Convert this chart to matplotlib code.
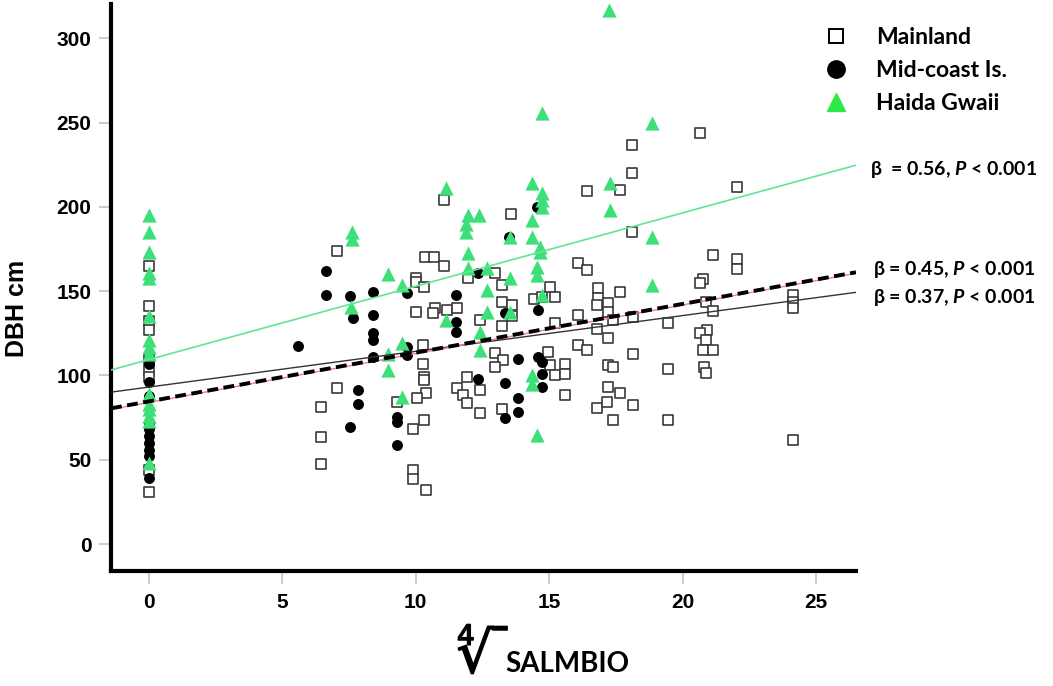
import matplotlib
matplotlib.use("Agg")
import matplotlib.pyplot as plt
import matplotlib.patheffects as pe
from matplotlib.lines import Line2D
import numpy as np


# =========================
# DATOS
# =========================

# Mainland (cuadrados abiertos)
MAIN_X = [0, 0, 0, 0, 0, 0, 0, 0, 0,
          6.45, 6.45, 6.45, 7.06, 7.06, 9.29, 9.89, 9.89, 9.89, 10.37,
          10.0, 10.0, 10.3, 10.0, 10.35, 10.69, 11.07, 11.07,
          10.72, 11.16, 11.54, 10.66,
          10.26, 10.26, 10.3, 10.3, 10.4, 10.04, 10.3,
          11.54, 11.79, 11.94, 11.94, 12.41, 12.41, 11.97,
          12.97, 13.22, 13.22, 13.6, 13.6, 12.41, 13.22,
          12.97, 13.26, 12.97, 13.22, 13.57,
          14.45, 14.72, 15.04, 15.22,
          14.97, 15.04, 15.6, 15.22, 15.6, 15.6, 15.22,
          16.1, 16.43, 16.43,
          16.85, 16.85, 16.8, 17.2, 17.2,
          16.1, 16.79, 17.22, 17.4, 18.16,
          16.1, 16.43, 18.16,
          17.22, 17.4, 17.22, 17.66,
          16.79, 17.16, 17.4, 18.16,
          17.66, 18.1, 18.1, 18.1, 17.66,
          19.47, 19.47, 19.47,
          20.66, 22.04, 21.13, 22.04, 22.04,
          20.76, 20.66, 20.88, 21.13,
          24.13, 24.13, 24.13,
          20.91, 20.66, 20.88, 20.76, 21.13,
          20.79, 20.88, 24.13]
MAIN_Y = [165, 141, 132, 127, 110, 103, 99, 44, 31,
          81, 63.7, 47.3, 173.8, 92.3, 84.4, 68, 43.9, 38.4, 32,
          157.6, 155.6, 152.6, 137.8, 170.4, 170.4, 165, 204,
          139.8, 138.8, 139.8, 136.8,
          118, 107, 99, 97, 89.4, 86.4, 73.5,
          92.3, 88.4, 83.8, 98.9, 91.3, 78, 157.6,
          160.6, 153.6, 143.7, 141.8, 135, 132.9, 129.3,
          113.5, 109, 104.8, 79.9, 196,
          145.5, 146.7, 152.6, 146.7,
          114, 106, 107, 100, 100.7, 88.4, 131.3,
          166.5, 162.5, 209.6,
          151.6, 145.7, 141.8, 143, 137.8,
          135.8, 127.4, 122, 133, 134.5,
          118, 115, 113,
          106, 105, 93.3, 89.4,
          80.5, 84.4, 73.5, 82.4,
          210, 220, 236.7, 185, 149.7,
          131, 103.6, 73.5,
          243.6, 211.6, 171.4, 169, 163,
          157, 154.6, 143.7, 138.4,
          147.7, 143.7, 139.8,
          127, 125.3, 121, 115, 115,
          105, 101.6, 61.7]

# Mid-coast Is. (circulos negros)
MID_X = [0, 0, 0, 0, 0, 0, 0, 0, 0, 0,
         5.6, 6.64, 6.64, 7.54, 7.64, 7.85, 7.85, 7.54,
         8.41, 8.41, 8.41, 8.41, 8.41,
         9.66, 9.66, 9.66, 9.31, 9.31, 9.31,
         11.5, 11.5, 11.5, 12.35, 12.35,
         13.35, 13.35, 13.35, 13.5,
         13.85, 13.85, 13.85, 14.54, 14.6,
         14.6, 14.72, 14.72, 14.72]
MID_Y = [107, 96, 88, 72, 68, 64, 60, 56, 52, 39,
         117.6, 162, 147.7, 147, 134, 91.3, 83, 69.6,
         149.7, 135.8, 125, 121, 110.7,
         148.7, 117, 112, 75.5, 72.5, 58.7,
         147.7, 131.9, 126, 160.6, 97.7,
         136.8, 95.3, 75, 182,
         109.5, 86.4, 78.5, 200, 138.8,
         111, 108, 101, 93]

# Haida Gwaii (triangulos verdes)
HAIDA_X = [0, 0, 0, 0, 0, 0, 0, 0, 0, 0, 0, 0, 0, 0, 0,
           7.6, 7.6, 7.57,
           8.97, 9.47, 9.47, 8.97, 8.97, 9.47,
           11.12, 11.12,
           11.97, 12.38, 11.9, 11.9, 11.97, 11.97,
           12.66, 12.66, 12.66, 12.41, 12.41,
           13.54, 13.54, 13.54,
           14.35, 14.35, 14.35, 14.72, 14.72, 14.72,
           14.66, 14.66, 14.54, 14.54, 14.72,
           14.35, 14.35, 14.54, 14.72,
           17.29, 17.29, 17.25,
           18.85, 18.85, 18.85]
HAIDA_Y = [195, 185, 173, 161, 158, 135, 121, 117, 113, 89, 83, 80, 76, 73, 48,
           185, 181, 140.8,
           160, 153.6, 119, 113, 103, 87,
           211, 132.9,
           195, 195, 190, 185, 172.8, 163.5,
           163.5, 150.7, 137.8, 126, 115,
           182, 157.6, 137.4,
           214, 192, 182, 208, 204, 200,
           176, 173, 164.5, 159.6, 147.7,
           100, 95, 64.7, 255.4,
           214, 198, 316.8,
           249.5, 182, 153.6]

# Rectas de regresion: intercepto, pendiente
FIT_HAIDA = (109.4, 4.35)
FIT_MAIN = (93.1, 2.12)
FIT_ALL = (84.6, 2.89)
FIT_ALL_RED = (84.0, 2.89)

BETA_LABELS = ["β  = 0.56, $P$ < 0.001",
               "β = 0.45, $P$ < 0.001",
               "β = 0.37, $P$ < 0.001"]

LEGEND_LABELS = ["Mainland", "Mid-coast Is.", "Haida Gwaii"]

X_TICKS = [0, 5, 10, 15, 20, 25]
Y_TICKS = [0, 50, 100, 150, 200, 250, 300]

GREEN = "#3ddf78"
GREEN_LINE = "#62e594"
ARIAL = ["Liberation Sans", "DejaVu Sans"]
CALIBRI = ["Lato", "DejaVu Sans"]


def fit_line(ax, fit, x0, x1, **kw):
    xs = np.array([x0, x1])
    ax.plot(xs, fit[0] + fit[1] * xs, **kw)


def main() -> None:
    plt.rcParams["mathtext.fontset"] = "custom"
    plt.rcParams["mathtext.it"] = "Lato:italic:bold"
    plt.rcParams["mathtext.rm"] = "Lato:bold"
    plt.rcParams["mathtext.bf"] = "Lato:bold"

    fig = plt.figure(figsize=(10.53, 6.86), dpi=100)
    ax = fig.add_axes([0.1054, 0.1676, 0.7075, 0.8266])

    x0, x1 = -1.42, 26.5
    ax.set_xlim(x0, x1)
    ax.set_ylim(-16, 320.3)

    ax.scatter(MAIN_X, MAIN_Y, marker="s", s=50, facecolor="white",
               edgecolor="#3a3a3a", linewidth=1.2, zorder=2)
    ax.scatter(MID_X, MID_Y, marker="o", s=62, color="black",
               linewidth=0, zorder=3)
    ax.scatter(HAIDA_X, HAIDA_Y, marker="^", s=105, color=GREEN,
               linewidth=0, zorder=4)

    fit_line(ax, FIT_HAIDA, x0, x1, color=GREEN_LINE, lw=1.2, zorder=5)
    fit_line(ax, FIT_MAIN, x0, x1, color="#333333", lw=1.0, zorder=5)
    fit_line(ax, FIT_ALL_RED, x0, x1, color="#f08080", lw=1.0, zorder=5)
    fit_line(ax, FIT_ALL, x0, x1, color="black", lw=2.8,
             dashes=(2.8, 1.4), zorder=6)

    for side in ["top", "right"]:
        ax.spines[side].set_visible(False)
    for side in ["left", "bottom"]:
        ax.spines[side].set_linewidth(3.0)
        ax.spines[side].set_color("black")

    ax.set_xticks(X_TICKS)
    ax.set_yticks(Y_TICKS)
    ax.tick_params(axis="both", color="#c4c4c4", length=9, width=1.2,
                   labelsize=15)
    ax.tick_params(axis="x", pad=7)
    ax.tick_params(axis="y", pad=5)
    for lab in ax.get_xticklabels() + ax.get_yticklabels():
        lab.set_family(ARIAL)
        lab.set_fontweight("bold")

    # Etiquetas de ejes
    fig.text(17 / 1053, 1 - 308 / 686, "DBH cm", rotation=90, ha="center",
             va="center", fontsize=18, fontweight="bold", family=ARIAL)
    fig.text(457 / 1053, 1 - 685 / 686, r"$\sqrt[4]{\,\!}$", ha="left",
             va="bottom", fontsize=41, math_fontfamily="dejavusans",
             path_effects=[pe.withStroke(linewidth=1.1, foreground="black")])
    fig.text(505 / 1053, 1 - 672 / 686, "SALMBIO", ha="left", va="baseline",
             fontsize=20, fontweight="bold", family=CALIBRI)

    # Leyenda
    handles = [
        Line2D([], [], ls="none", marker="s", ms=9.5, mfc="white",
               mec="black", mew=1.4),
        Line2D([], [], ls="none", marker="o", ms=12.5, color="black"),
        Line2D([], [], ls="none", marker="^", ms=13.5, color="#2ee84a"),
    ]
    fig.legend(handles, LEGEND_LABELS, loc="upper left",
               bbox_to_anchor=(821 / 1053, 1 - 27 / 686), frameon=False,
               borderpad=0, borderaxespad=0, handlelength=1.3,
               handletextpad=1.1, labelspacing=0.52,
               prop={"family": CALIBRI, "weight": "bold", "size": 16.5})

    # Anotaciones de pendiente
    beta_pos = [(870, 170), (873, 270), (873, 298)]
    for (px, py), txt in zip(beta_pos, BETA_LABELS):
        fig.text(px / 1053, 1 - py / 686, txt, ha="left", va="center",
                 fontsize=14, fontweight="bold", family=CALIBRI)

    fig.savefig("out.png", dpi=100)


if __name__ == "__main__":
    main()
